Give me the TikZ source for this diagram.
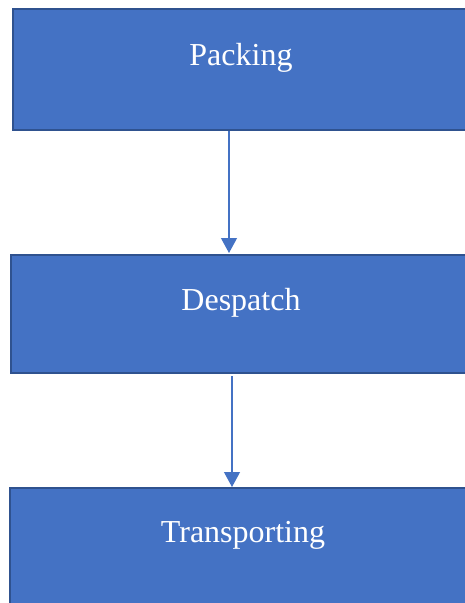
\documentclass[tikz,border=0pt]{standalone}
\usepackage{fontspec}
\setmainfont{Liberation Serif}
\usetikzlibrary{arrows.meta}
\definecolor{stagefill}{HTML}{4472C4}
\definecolor{stageline}{HTML}{2F528F}
\tikzset{
  stage/.style={draw=stageline, line width=2pt, fill=stagefill, text=white,
    inner sep=0pt, text height=24pt, text depth=32pt,
    font=\fontsize{32}{38}\selectfont},
  flow/.style={draw=stagefill, line width=1.2pt,
    -{Triangle[width=16pt,length=15pt]}}
}

\begin{document}
\begin{tikzpicture}[x=1pt,y=-1pt]
				\clip (0,0) rectangle (465,603);
				\node[stage, minimum width=456pt, minimum height=121pt] (pack) at (241,69.5) {Packing};
				\node[stage, minimum width=460pt, minimum height=118pt] (desp) at (241,314) {Despatch};
				\node[stage, minimum width=466pt, minimum height=116pt] (trans) at (243,546) {Transporting};
				\draw[flow] ([xshift=-12pt]pack.south) -- ([xshift=-12pt,yshift=1pt]desp.north);
				\draw[flow] ([xshift=-9pt,yshift=-2pt]desp.south) -- ([xshift=-11pt]trans.north);
			\end{tikzpicture}
\end{document}
